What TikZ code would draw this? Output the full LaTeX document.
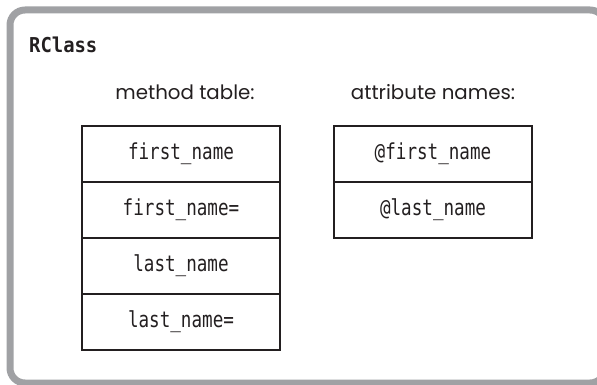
\documentclass[tikz,border=0pt]{standalone}
\usepackage{fontspec}
\usetikzlibrary{positioning}
\usepackage{xcolor}
\newfontfamily\codefont[FakeStretch=0.8]{DejaVu Sans Mono}
\newfontfamily\titlefont[FakeStretch=0.92]{DejaVu Sans Mono}
\newfontfamily\labelfont{Poppins}
\definecolor{framegray}{RGB}{160,161,164}
\definecolor{inkblack}{RGB}{35,31,32}

\begin{document}
\begin{tikzpicture}[
    x=1pt, y=-1pt,
    frame/.style={draw=framegray, line width=7pt, rounded corners=15pt},
    cell/.style={rectangle, draw=inkblack, line width=2.6pt, minimum width=198pt, minimum height=56pt, outer sep=0pt, inner sep=0pt, text=inkblack, font=\codefont\fontsize{22}{26}\selectfont},
    heading/.style={text=inkblack, font=\labelfont\fontsize{19.8}{24}\selectfont, anchor=base},
    classname/.style={text=inkblack, font=\titlefont\bfseries\fontsize{20.5}{24}\selectfont, anchor=base west, inner sep=0pt}
]
\useasboundingbox (0,0) rectangle (597,385);

% Class frame
\draw[frame] (10,10) rectangle (605,383);
\node[classname] (rclass) at (29,53) {RClass};

% Method table
\node[heading] (methodlabel) at (185,100) {method table:};
\node[cell] (mfirst) at (181,154) {first\_name};
\node[cell, below=0pt of mfirst] (mfirstset) {first\_name=};
\node[cell, below=0pt of mfirstset] (mlast) {last\_name};
\node[cell, below=0pt of mlast] (mlastset) {last\_name=};

% Attribute names
\node[heading] (attrlabel) at (433,100) {attribute names:};
\node[cell] (afirst) at (433,154) {@first\_name};
\node[cell, below=0pt of afirst] (alast) {@last\_name};

\end{tikzpicture}
\end{document}
